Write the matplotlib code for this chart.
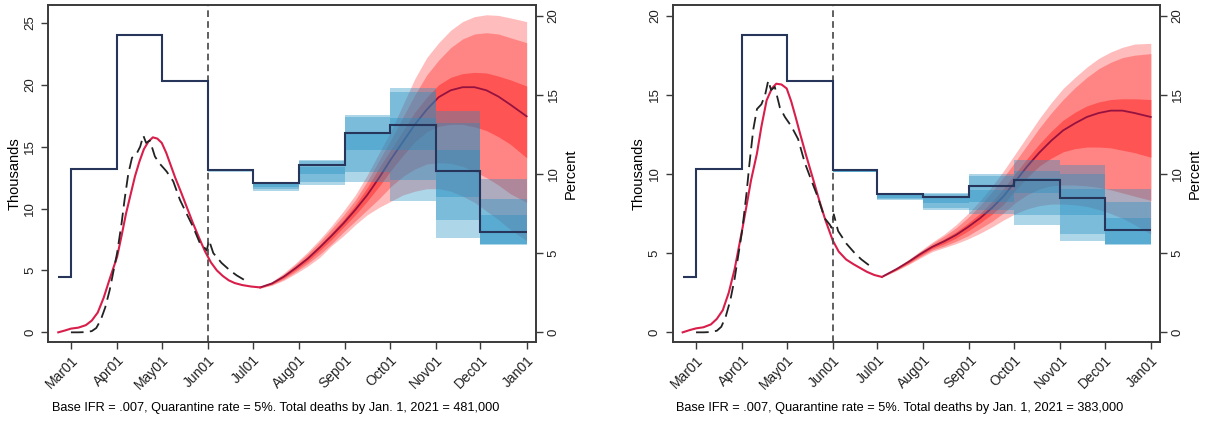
import matplotlib
matplotlib.use("Agg")
import matplotlib.pyplot as plt

plt.rcParams['font.family'] = ['Liberation Sans', 'DejaVu Sans']

# days counted from Mar 1, 2020
month_ticks = [0, 31, 61, 92, 122, 153, 184, 214, 245, 275, 306]
month_labels = ["Mar01", "Apr01", "May01", "Jun01", "Jul01", "Aug01",
                "Sep01", "Oct01", "Nov01", "Dec01", "Jan01"]

# observed daily deaths (thousands), same in both panels
obs_days = [0, 5, 10, 14, 17, 20, 23, 26, 29, 31, 34, 36, 38.5, 41, 44, 46.5, 48.6,
            50.5, 53, 56.4, 59.8, 64.2, 68.7, 73.2, 77.6, 82.1, 86.6, 90.0, 91.2,
            92.7, 95.6, 101.2, 106.8, 111.3, 116.9]
obs_k = [0.0, 0.0, 0.02, 0.1, 0.35, 1.0, 2.0, 3.4, 5.2, 6.4, 8.8, 10.7, 12.8, 14.1,
         14.4, 15.0, 15.9, 15.3, 15.5, 14.2, 13.6, 13.0, 12.2, 10.7, 9.6, 8.5, 7.2,
         6.8, 6.6, 7.45, 6.4, 5.6, 5.0, 4.6, 4.2]

# model fit before the projection fan (thousands)
fit_days_a = [-8.5, -4, 0, 5, 10, 14, 18, 22, 26, 31, 34, 37, 40, 43, 46, 49, 52, 55,
              58, 61, 64, 67, 70, 74, 78, 82, 86, 90, 94, 98, 102, 106, 110, 115, 121, 127]
fit_k_a = [0.0, 0.15, 0.3, 0.38, 0.58, 0.95, 1.6, 2.8, 4.3, 6.1, 7.8, 9.6, 11.1, 12.6,
           13.8, 14.8, 15.4, 15.75, 15.65, 15.3, 14.5, 13.5, 12.5, 11.3, 10.05, 8.8,
           7.65, 6.55, 5.65, 5.0, 4.55, 4.2, 3.98, 3.82, 3.7, 3.63]
fit_days_b = [-9, -4, 0, 5, 10, 14, 18, 22, 26, 31, 34, 37, 41, 44, 47.5, 51, 54, 57.5,
              61, 64, 67, 70, 74, 79, 83, 87, 92, 96, 101, 106, 115, 120, 125]
fit_k_b = [0.0, 0.15, 0.25, 0.32, 0.5, 0.85, 1.4, 2.5, 4.0, 6.45, 8.0, 9.6, 11.3, 13.0,
           14.65, 15.4, 15.7, 15.65, 15.4, 14.6, 13.6, 12.55, 11.2, 9.6, 8.3, 7.1, 5.8,
           5.1, 4.6, 4.3, 3.82, 3.62, 3.5]

# projection fan (thousands): median and three bands
fan_days_a = [127, 135, 143, 151, 159, 167, 175, 183, 191, 199, 207, 215, 223, 231,
              239, 247, 255, 263, 271, 279, 287, 295, 306]
med_a = [3.63, 3.95, 4.5, 5.2, 5.95, 6.85, 7.8, 8.8, 9.9, 11.1, 12.5, 14.0, 15.4, 16.8,
         18.0, 19.0, 19.55, 19.8, 19.8, 19.55, 19.05, 18.4, 17.45]
light_hi_a = [3.7, 4.1, 4.8, 5.6, 6.5, 7.5, 8.6, 9.8, 11.1, 12.7, 14.5, 16.3, 18.4, 20.5,
              22.2, 23.4, 24.4, 25.1, 25.5, 25.65, 25.6, 25.4, 25.1]
mid_hi_a = [3.68, 4.05, 4.7, 5.5, 6.35, 7.3, 8.35, 9.45, 10.7, 12.2, 13.9, 15.6, 17.4,
            19.2, 20.8, 22.0, 23.0, 23.7, 24.1, 24.2, 24.1, 23.8, 23.4]
dark_hi_a = [3.66, 4.0, 4.6, 5.35, 6.15, 7.05, 8.05, 9.1, 10.3, 11.7, 13.3, 14.8, 16.3,
             17.8, 19.0, 20.0, 20.6, 20.9, 21.0, 20.95, 20.7, 20.4, 19.9]
dark_lo_a = [3.6, 3.9, 4.4, 5.05, 5.75, 6.6, 7.5, 8.5, 9.5, 10.6, 11.8, 13.1, 14.3, 15.4,
             16.2, 16.65, 16.8, 16.8, 16.6, 16.3, 15.8, 15.2, 14.1]
mid_lo_a = [3.58, 3.85, 4.3, 4.9, 5.55, 6.3, 7.15, 8.1, 9.0, 9.9, 10.8, 11.8, 12.6, 13.2,
            13.6, 13.7, 13.65, 13.4, 13.0, 12.5, 11.9, 11.2, 10.5]
light_lo_a = [3.56, 3.8, 4.2, 4.75, 5.35, 6.05, 7.0, 7.8, 8.7, 9.5, 10.1, 10.6, 11.1,
              11.4, 11.6, 11.6, 11.4, 11.0, 10.5, 9.8, 9.1, 8.3, 7.4]

fan_days_b = [125, 135, 143, 151, 159, 167, 175, 183, 191, 199, 207, 215, 223, 231,
              239, 247, 255, 263, 271, 279, 287, 295, 306]
med_b = [3.5, 4.0, 4.45, 4.95, 5.4, 5.75, 6.15, 6.65, 7.2, 7.85, 8.6, 9.55, 10.5, 11.35,
         12.1, 12.75, 13.2, 13.6, 13.85, 14.0, 14.0, 13.85, 13.6]
light_hi_b = [3.55, 4.1, 4.6, 5.15, 5.7, 6.2, 6.8, 7.5, 8.3, 9.2, 10.2, 11.3, 12.4, 13.5,
              14.5, 15.4, 16.1, 16.75, 17.3, 17.7, 18.0, 18.2, 18.25]
mid_hi_b = [3.53, 4.08, 4.57, 5.1, 5.62, 6.08, 6.6, 7.25, 8.0, 8.85, 9.8, 10.8, 11.85,
            12.9, 13.85, 14.7, 15.45, 16.1, 16.65, 17.05, 17.35, 17.5, 17.6]
dark_hi_b = [3.51, 4.04, 4.51, 5.02, 5.5, 5.9, 6.35, 6.9, 7.5, 8.25, 9.1, 10.05, 11.0,
             11.9, 12.7, 13.4, 13.9, 14.3, 14.55, 14.7, 14.75, 14.75, 14.7]
dark_lo_b = [3.49, 3.96, 4.39, 4.85, 5.3, 5.6, 5.95, 6.4, 6.9, 7.45, 8.1, 9.0, 9.8, 10.5,
             11.0, 11.4, 11.6, 11.7, 11.7, 11.65, 11.5, 11.35, 11.06]
mid_lo_b = [3.48, 3.93, 4.33, 4.78, 5.2, 5.45, 5.75, 6.1, 6.55, 7.0, 7.55, 8.2, 8.7, 9.05,
            9.25, 9.3, 9.3, 9.25, 9.15, 9.0, 8.8, 8.6, 8.33]
light_lo_b = [3.47, 3.9, 4.28, 4.7, 5.1, 5.35, 5.6, 5.9, 6.25, 6.65, 7.1, 7.5, 7.8, 8.0,
              8.1, 8.1, 8.05, 7.95, 7.75, 7.5, 7.2, 6.8, 6.2]

# quarantine rate (percent), one step per month
step_edges = [-9, 0, 31, 61, 92, 122, 153, 184, 214, 245, 275, 306]
rate_a = [3.5, 10.3, 18.8, 15.85, 10.28, 9.42, 10.56, 12.6, 13.1, 10.2, 6.32]
rate_b = [3.5, 10.3, 18.8, 15.85, 10.23, 8.74, 8.55, 9.24, 9.63, 8.49, 6.49]

# uncertainty boxes for the rate (percent), Jun..Dec
box_start = [92, 122, 153, 184, 214, 245, 275]
box_end = [122, 153, 184, 214, 245, 275, 306]
outer_lo_a = [10.15, 8.95, 9.3, 9.5, 8.3, 5.93, 5.5]
outer_hi_a = [10.32, 9.45, 10.9, 13.7, 15.45, 14.0, 9.7]
midb_lo_a = [10.18, 9.05, 9.5, 10.1, 9.6, 7.08, 5.55]
midb_hi_a = [10.3, 9.42, 10.8, 13.6, 15.2, 13.2, 8.45]
inner_lo_a = [10.2, 9.15, 10.0, 11.5, 11.5, 8.55, 5.6]
inner_hi_a = [10.28, 9.4, 10.45, 12.55, 13.55, 11.5, 7.4]

outer_lo_b = [10.1, 8.35, 7.7, 7.5, 6.77, 5.78, 5.5]
outer_hi_b = [10.25, 8.8, 8.8, 9.98, 10.9, 10.55, 9.08]
midb_lo_b = [10.12, 8.4, 7.85, 7.7, 7.4, 6.24, 5.55]
midb_hi_b = [10.24, 8.78, 8.75, 9.9, 10.2, 10.0, 8.23]
inner_lo_b = [10.14, 8.5, 8.15, 8.2, 8.8, 7.4, 5.6]
inner_hi_b = [10.23, 8.76, 8.6, 9.0, 9.75, 9.08, 7.19]

captions = ["Base IFR = .007, Quarantine rate = 5%. Total deaths by Jan. 1, 2021 = 481,000",
            "Base IFR = .007, Quarantine rate = 5%. Total deaths by Jan. 1, 2021 = 383,000"]

W, H = 1211, 421
fig = plt.figure(figsize=(W / 100, H / 100), dpi=100)
fig.patch.set_facecolor("white")

SPINE = "#3a3a3a"


def draw_panel(rect, xlim, ylim_k, kticks, fit, fan, rate, boxes, caption, cap_x):
    ax = fig.add_axes(rect)
    ax2 = ax.twinx()

    # red projection fan, widest band first
    days, bands, med = fan
    for (lo, hi), col in zip(bands, ["#ffbcbc", "#ff8585", "#ff5454"]):
        ax.fill_between(days, lo, hi, color=col, lw=0, zorder=1)
    ax.plot(days, med, color="#96123f", lw=1.3, zorder=4)
    ax.plot(fit[0], fit[1], color="#d81e4a", lw=1.5, zorder=4)
    ax.plot(obs_days, obs_k, color="#222222", lw=1.3, dashes=(7, 3.5), zorder=5)
    ax.axvline(92, color="#444444", lw=1.2, dashes=(4, 2.5), zorder=6)

    # blue boxes and step line live on the percent axis
    widths = [e - s for s, e in zip(box_start, box_end)]
    for lo, hi in boxes:
        ax2.bar(box_start, [h - l for l, h in zip(lo, hi)], bottom=lo, width=widths,
                align="edge", color="#1f8fc2", alpha=0.36, lw=0, zorder=1)
    ax2.stairs(rate, step_edges, baseline=None, color="#263559", lw=1.5, zorder=3)

    ax.set_xlim(*xlim)
    ax.set_ylim(*ylim_k)
    ax2.set_ylim(-0.61, 20.67)
    ax.set_yticks(kticks)
    ax2.set_yticks([0, 5, 10, 15, 20])
    ax.set_xticks(month_ticks)
    ax.set_xticklabels(month_labels, rotation=45, ha="right", rotation_mode="anchor")

    for a in (ax, ax2):
        for s in a.spines.values():
            s.set_color(SPINE)
            s.set_linewidth(1.2)
        a.tick_params(colors=SPINE, labelcolor="#222222", length=5, width=1)
    ax.tick_params(axis="x", labelsize=10, pad=3)
    ax.tick_params(axis="y", labelsize=9.5, labelrotation=90)
    ax2.tick_params(axis="y", labelsize=9.5, labelrotation=90)
    for t in ax.get_yticklabels() + ax2.get_yticklabels():
        t.set_va("center")
    ax.set_ylabel("Thousands", fontsize=10.5, labelpad=2)
    ax2.set_ylabel("Percent", fontsize=10.5, labelpad=3)

    fig.text(cap_x / W, 1 - 408 / H, caption, fontsize=9.2, va="center", ha="left")


bottom = 1 - 342 / H
height = 337 / H

draw_panel([48 / W, bottom, 488 / W, height], (-15.4, 312.3), (-0.78, 26.44),
           [0, 5, 10, 15, 20, 25], (fit_days_a, fit_k_a),
           (fan_days_a, [(light_lo_a, light_hi_a), (mid_lo_a, mid_hi_a),
                         (dark_lo_a, dark_hi_a)], med_a),
           rate_a,
           [(outer_lo_a, outer_hi_a), (midb_lo_a, midb_hi_a), (inner_lo_a, inner_hi_a)],
           captions[0], 52)

draw_panel([672.7 / W, bottom, 487.3 / W, height], (-15.7, 312.2), (-0.61, 20.67),
           [0, 5, 10, 15, 20], (fit_days_b, fit_k_b),
           (fan_days_b, [(light_lo_b, light_hi_b), (mid_lo_b, mid_hi_b),
                         (dark_lo_b, dark_hi_b)], med_b),
           rate_b,
           [(outer_lo_b, outer_hi_b), (midb_lo_b, midb_hi_b), (inner_lo_b, inner_hi_b)],
           captions[1], 676)

fig.savefig("out.png", dpi=100, facecolor="white")
